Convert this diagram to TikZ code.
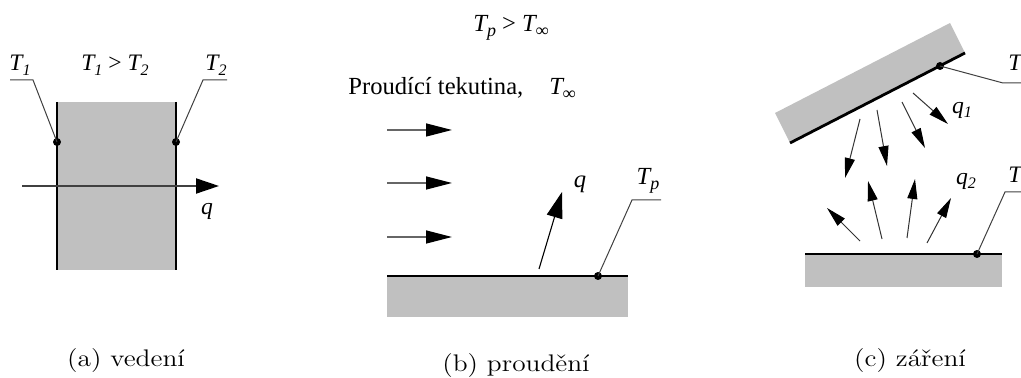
\documentclass[tikz,border=0pt]{standalone}
\usepackage{fontspec}
\newfontfamily\tms{Liberation Serif}
\usetikzlibrary{arrows.meta}
\definecolor{platecol}{RGB}{192,192,192}
\newcommand\lsub[1]{\raisebox{-0.45ex}{\fontsize{8}{8}\selectfont #1}}
\newcommand\bsub[1]{\raisebox{-0.45ex}{\fontsize{9}{9}\selectfont #1}}
\begin{document}
\begin{tikzpicture}[x=0.5pt,y=-0.5pt,
  lbl/.style={font=\tms\fontsize{11.8}{12}\selectfont\itshape, inner sep=0},
  biglbl/.style={font=\tms\fontsize{12.3}{13}\selectfont\itshape, inner sep=0},
  captext/.style={font=\fontsize{12}{14}\selectfont, xscale=1.14, inner sep=0, anchor=base},
  platefill/.style={fill=platecol, draw=none},
  surf/.style={line width=1.4pt, line cap=butt},
  lead/.style={line width=0.5pt, draw=black!75},
  dotst/.style={circle, fill=black, inner sep=0, minimum size=4pt},
  axisarrow/.style={line width=1pt, draw=black!75, -{Triangle[length=11.5pt,width=7.5pt,color=black]}},
  flow/.style={line width=0.7pt, draw=black!60, -{Triangle[length=13pt,width=6.5pt,color=black]}},
  heat/.style={line width=0.55pt, draw=black, -{Triangle[length=13pt,width=8pt]}},
  ray/.style={line width=0.5pt, draw=black!80, -{Triangle[length=10pt,width=5pt,color=black]}}
]
\useasboundingbox (0,0) rectangle (1021,378);

% ---------------- (a) vedeni ----------------
\fill[platefill] (57,102) rectangle (176,270);
\draw[surf] (57,102) -- (57,270);
\draw[surf] (176,102) -- (176,270);
\coordinate (ax0) at (22,186);
\coordinate (ax1) at (219,186);
\draw[axisarrow] (ax0) -- (ax1);
\node[dotst] (d1) at (57,142) {};
\node[dotst] (d2) at (176,142) {};
\coordinate (k1) at (33,80); \coordinate (e1) at (10,80);
\coordinate (k2) at (203,80); \coordinate (e2) at (227,80);
\draw[lead] (d1.center) -- (k1) -- (e1);
\draw[lead] (d2.center) -- (k2) -- (e2);
\node[lbl] (t1) at (20,65) {T\lsub{1}};
\node[lbl] (t12) at (115,65) {T\lsub{1} \upshape{>} \itshape T\lsub{2}};
\node[lbl] (t2) at (216,65) {T\lsub{2}};
\node[lbl] (qa) at (207,211) {q};
\node[captext] (capa) at (126,367) {(a) vedení};

% ---------------- (b) proudeni ----------------
\node[biglbl] (tpt) at (511,28) {T\bsub{p} \upshape{>} \itshape T\bsub{∞}};
\node[biglbl, anchor=west] (fluid) at (348,88) {\upshape Proudící tekutina,\hspace{13pt}\itshape T\bsub{∞}};
\foreach \y/\n in {130/f1,183/f2,237/f3}{
  \coordinate (\n a) at (387,\y);
  \coordinate (\n b) at (452,\y);
  \draw[flow] (\n a) -- (\n b);
}
\fill[platefill] (387,276) rectangle (628,317);
\draw[surf] (387,276) -- (628,276);
\node[dotst] (dp) at (598,276) {};
\coordinate (kp) at (632,200); \coordinate (ep) at (661,200);
\draw[lead] (dp.center) -- (kp) -- (ep);
\node[biglbl] (tp) at (648,181) {T\bsub{p}};
\coordinate (qb0) at (539,269);
\coordinate (qb1) at (562,192);
\draw[heat] (qb0) -- (qb1);
\node[biglbl] (qb) at (580,184) {q};
\node[captext] (capb) at (516,372) {(b) proudění};

% ---------------- (c) zareni ----------------
\fill[platefill] (775,113) -- (790,143) -- (965,53) -- (950,23) -- cycle;
\draw[surf] (790,143) -- (965,53);
\node[dotst] (dc1) at (940,66) {};
\coordinate (kc1) at (1003,83); \coordinate (ec1) at (1021,83);
\draw[lead] (dc1.center) -- (kc1) -- (ec1);
\node[lbl, anchor=west] (tc1) at (1008,63) {T};
\foreach \a/\b/\c/\d/\n in {860/119/845/178/r1, 877/110/887/166/r2, 902/102/925/148/r3, 913/93/948/124/r4}{
  \coordinate (\n a) at (\a,\b);
  \coordinate (\n b) at (\c,\d);
  \draw[ray] (\n a) -- (\n b);
}
\node[lbl] (q1) at (962,110) {q\lsub{1}};
\foreach \a/\b/\c/\d/\n in {860/241/827/208/u1, 882/239/868/181/u2, 907/238/915/179/u3, 927/243/951/198/u4}{
  \coordinate (\n a) at (\a,\b);
  \coordinate (\n b) at (\c,\d);
  \draw[ray] (\n a) -- (\n b);
}
\node[lbl] (q2) at (966,181) {q\lsub{2}};
\fill[platefill] (805,254) rectangle (1002,287);
\draw[surf] (805,254) -- (1002,254);
\node[dotst] (dc2) at (977,254) {};
\coordinate (kc2) at (1005,192); \coordinate (ec2) at (1021,192);
\draw[lead] (dc2.center) -- (kc2) -- (ec2);
\node[lbl, anchor=west] (tc2) at (1008,175) {T};
\node[captext] (capc) at (910,367) {(c) záření};
\end{tikzpicture}
\end{document}
